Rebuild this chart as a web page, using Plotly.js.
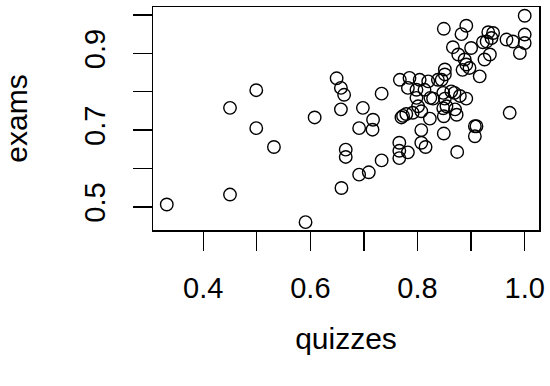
<!DOCTYPE html>
<html>
<head>
<meta charset="utf-8">
<script src="https://cdn.plot.ly/plotly-3.0.1.min.js"></script>
<style>html,body{margin:0;padding:0;background:#fff;}#chart{width:550px;height:386px;}</style>
</head>
<body>
<div id="chart"></div>
<script>
var quizzes = [0.332,0.450,0.450,0.499,0.499,0.532,0.591,0.608,0.649,0.657,
0.663,0.657,0.666,0.666,0.658,0.698,0.733,0.717,0.691,0.716,
0.733,0.709,0.691,0.767,0.770,0.766,0.766,0.766,0.782,0.773,
0.779,0.785,0.804,0.820,0.782,0.798,0.813,0.798,0.801,0.829,
0.851,0.891,0.854,0.807,0.823,0.849,0.873,0.848,0.972,0.907,
0.907,0.874,0.849,0.807,0.807,0.815,0.838,0.845,0.851,0.851,
0.863,0.848,0.916,0.866,0.900,0.876,0.888,0.891,0.925,0.935,
0.849,0.891,0.882,0.932,0.941,0.938,0.929,0.922,0.966,0.978,
1.000,1.000,0.991,1.000,0.884,0.897,0.879,0.869,0.824,0.870,
0.791,0.910];
var exams = [0.506,0.532,0.758,0.804,0.705,0.656,0.460,0.733,0.835,0.810,
0.792,0.754,0.649,0.630,0.549,0.758,0.795,0.727,0.705,0.701,
0.621,0.590,0.584,0.831,0.733,0.667,0.646,0.627,0.642,0.737,
0.742,0.836,0.831,0.827,0.810,0.805,0.805,0.784,0.762,0.782,
0.782,0.782,0.762,0.749,0.730,0.736,0.740,0.757,0.745,0.710,
0.684,0.643,0.691,0.700,0.667,0.656,0.831,0.831,0.845,0.858,
0.801,0.797,0.840,0.916,0.914,0.897,0.884,0.871,0.884,0.897,
0.964,0.972,0.950,0.955,0.953,0.940,0.931,0.929,0.936,0.931,
0.949,0.927,0.901,0.998,0.857,0.862,0.789,0.797,0.784,0.754,
0.745,0.710];
var xTicks = [0.4,0.5,0.6,0.7,0.8,0.9,1.0];
var xTickText = ['0.4','','0.6','','0.8','','1.0'];
var yTicks = [0.5,0.6,0.7,0.8,0.9,1.0];
var yTickText = ['0.5','','0.7','','0.9',''];

var fontFam = 'Liberation Sans, Arial, sans-serif';
var trace = {
  x: quizzes, y: exams, type: 'scatter', mode: 'markers',
  marker: {symbol: 'circle-open', size: 12.5, color: '#000', line: {width: 1.4, color: '#000'}},
  hoverinfo: 'x+y'
};
var axisCommon = {
  showgrid: false, zeroline: false, showline: true, mirror: true,
  linecolor: '#000', linewidth: 1.5, ticks: 'outside', ticklen: 19, tickwidth: 1.4,
  tickcolor: '#000', tickfont: {family: fontFam, size: 29, color: '#000'},
  tickmode: 'array'
};
var layout = {
  width: 550, height: 386,
  margin: {l: 153, r: 11, t: 7, b: 156, pad: 0},
  paper_bgcolor: '#fff', plot_bgcolor: '#fff',
  showlegend: false,
  xaxis: Object.assign({}, axisCommon, {
    range: [0.3063, 1.0267], tickvals: xTicks, ticktext: xTickText,
    ticklabelstandoff: 13,
    title: {text: 'quizzes', font: {family: fontFam, size: 30, color: '#000'}, standoff: 24}
  }),
  yaxis: Object.assign({}, axisCommon, {
    range: [0.4396, 1.0208], tickvals: yTicks, ticktext: yTickText,
    tickangle: -90, ticklabelstandoff: 16,
    title: {text: 'exams', font: {family: fontFam, size: 30, color: '#000'}, standoff: 44}
  })
};
Plotly.newPlot('chart', [trace], layout, {staticPlot: true});
</script>
</body>
</html>
